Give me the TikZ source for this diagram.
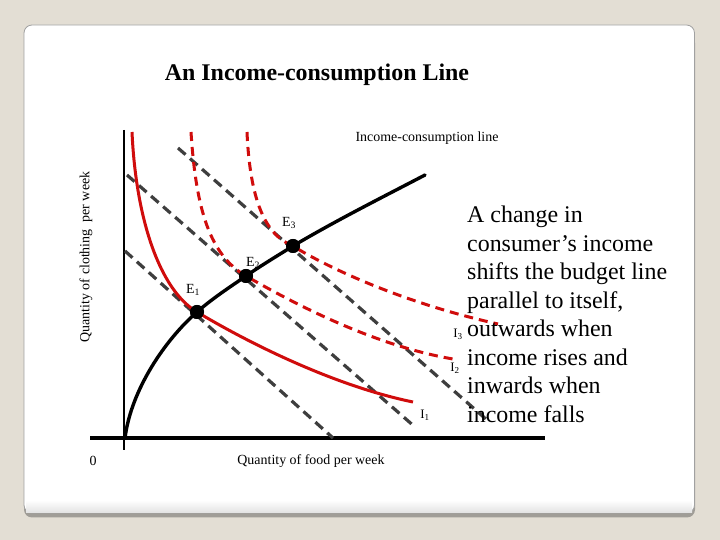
\documentclass[tikz,border=0pt]{standalone}
\usepackage[x11names, svgnames, rgb]{xcolor}
\usepackage{fontspec}
\setmainfont{Liberation Serif}
\usepackage{tikz}
\usetikzlibrary{arrows,shapes}

\definecolor{slidebg}{RGB}{227,222,212}
\definecolor{shadowcol}{RGB}{160,157,151}
\definecolor{budgetgray}{RGB}{62,62,62}
\definecolor{indiffred}{RGB}{208,12,12}

\tikzset{
  budget/.style={draw=budgetgray, line width=3.2bp, dash pattern=on 10bp off 6bp},
  icc/.style={draw=black, line width=3.4bp, line cap=round},
  indiff/.style={draw=indiffred, line width=3bp},
  indiffdash/.style={indiff, dash pattern=on 9bp off 6bp},
  eqpt/.style={circle, fill=black, inner sep=0pt, minimum size=14bp},
  lbl/.style={inner sep=0pt, font=\fontsize{14}{16}\selectfont},
  sublbl/.style={inner sep=0pt, font=\fontsize{13}{15}\selectfont},
}

\begin{document}
\begin{tikzpicture}[>=latex',line join=bevel,]
%%
\path[use as bounding box] (0.0bp,0.0bp) rectangle (720.0bp,540.0bp);
\begin{scope}
  \pgfsetfillcolor{slidebg}
  \fill (0.0bp,0.0bp) -- (0.0bp,540.0bp) -- (720.0bp,540.0bp) -- (720.0bp,0.0bp) -- cycle;
\end{scope}
\begin{scope}
  \pgfsetfillcolor{shadowcol}
  \fill[rounded corners=8bp] (24.0bp,22.5bp) rectangle (695.0bp,505.0bp);
  \definecolor{strokecol}{rgb}{0.63,0.63,0.63};
  \pgfsetstrokecolor{strokecol}
  \pgfsetfillcolor{white}
  \filldraw[line width=0.8bp, rounded corners=8bp] (24.0bp,27.0bp) rectangle (694.5bp,515.0bp);
  \shade[top color=white, bottom color=gray!22] (26.0bp,27.5bp) rectangle (692.0bp,40.0bp);
\end{scope}
%% axes
  \coordinate (Ytop) at (124.0bp,410.0bp);
  \coordinate (Ybot) at (124.0bp,90.0bp);
  \coordinate (Xleft) at (90.0bp,102.0bp);
  \coordinate (Xright) at (545.0bp,102.0bp);
  \coordinate (O) at (125.0bp,102.0bp);
  \draw [line width=1.1bp] (Ytop) -- (Ybot);
  \draw [line width=4bp] (Xleft) -- (Xright);
%% budget lines
  \coordinate (B1a) at (125.0bp,289.0bp);
  \coordinate (B1b) at (333.0bp,102.0bp);
  \coordinate (B2a) at (127.0bp,365.0bp);
  \coordinate (B2b) at (415.0bp,113.0bp);
  \coordinate (B3a) at (178.0bp,392.0bp);
  \coordinate (B3b) at (487.0bp,120.0bp);
  \draw [budget] (B1a) -- (B1b);
  \draw [budget] (B2a) -- (B2b);
  \draw [budget] (B3a) -- (B3b);
%% equilibria
  \node (E1) at (197.0bp,228.0bp) [eqpt] {};
  \node (E2) at (246.0bp,264.0bp) [eqpt] {};
  \node (E3) at (293.0bp,294.0bp) [eqpt] {};
%% indifference curves
  \coordinate (I1a) at (132.0bp,408.0bp);
  \coordinate (I1b) at (413.0bp,138.0bp);
  \coordinate (I2a) at (191.0bp,408.0bp);
  \coordinate (I2b) at (453.0bp,181.0bp);
  \coordinate (I3a) at (247.0bp,408.0bp);
  \coordinate (I3b) at (498.0bp,216.0bp);
  \draw [indiff] (I1a) ..controls (136.0bp,320.0bp) and (160.0bp,250.0bp)  .. (E1.center)
                       ..controls (242.0bp,201.0bp) and (330.0bp,155.0bp)  .. (I1b);
  \draw [indiffdash] (I2a) ..controls (196.0bp,330.0bp) and (210.0bp,285.0bp)  .. (E2.center)
                           ..controls (286.0bp,241.0bp) and (370.0bp,195.0bp)  .. (I2b);
  \draw [indiffdash] (I3a) ..controls (250.0bp,340.0bp) and (265.0bp,305.0bp)  .. (E3.center)
                           ..controls (315.0bp,280.0bp) and (390.0bp,240.0bp)  .. (I3b);
%% income-consumption line
  \coordinate (Cend) at (425.0bp,365.0bp);
  \draw [icc] (O) ..controls (131.0bp,150.0bp) and (165.0bp,200.0bp)  .. (E1.center)
                  ..controls (213.0bp,242.0bp) and (230.0bp,253.0bp)  .. (E2.center)
                  ..controls (262.0bp,275.0bp) and (277.0bp,284.0bp)  .. (E3.center)
                  ..controls (337.0bp,320.0bp) and (381.0bp,342.0bp)  .. (Cend);
  \node (E1) at (197.0bp,228.0bp) [eqpt] {};
  \node (E2) at (246.0bp,264.0bp) [eqpt] {};
  \node (E3) at (293.0bp,294.0bp) [eqpt] {};
%% labels
  \node (title) at (317.0bp,465.0bp) [inner sep=0pt, font=\bfseries\fontsize{24}{27}\selectfont] {An Income-consumption Line};
  \node (ICClbl) at (427.0bp,402.0bp) [lbl] {Income-consumption line};
  \node (zero) at (93.0bp,79.0bp) [lbl] {0};
  \node (xlbl) at (311.0bp,79.0bp) [lbl] {Quantity of food per week};
  \node (ylbl) at (86.0bp,283.0bp) [lbl, rotate=90] {Quantity of clothing \ per week};
  \node (E1lbl) at (193.0bp,250.0bp) [lbl] {E\textsubscript{1}};
  \node (E2lbl) at (253.0bp,277.0bp) [lbl] {E\textsubscript{2}};
  \node (E3lbl) at (289.0bp,317.0bp) [lbl] {E\textsubscript{3}};
  \node (I1lbl) at (425.0bp,125.0bp) [sublbl] {I\textsubscript{1}};
  \node (I2lbl) at (455.0bp,172.0bp) [sublbl] {I\textsubscript{2}};
  \node (I3lbl) at (458.0bp,206.0bp) [sublbl] {I\textsubscript{3}};
  \node (note) at (467.0bp,334.0bp) [anchor=north west, align=left, inner sep=0pt, font=\fontsize{24}{28.6}\selectfont]
    {A change in\\consumer’s income\\shifts the budget line\\parallel to itself,\\outwards when\\income rises and\\inwards when\\income falls};
%
\end{tikzpicture}
\end{document}
